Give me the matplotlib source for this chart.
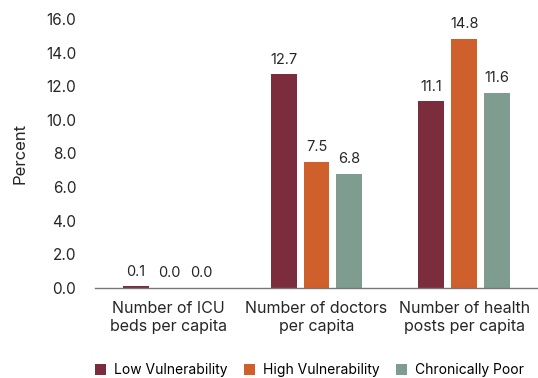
import matplotlib
matplotlib.use("Agg")
import matplotlib.pyplot as plt
import numpy as np

categories = ["Number of ICU\nbeds per capita", "Number of doctors\nper capita", "Number of health\nposts per capita"]
series_names = ["Low Vulnerability", "High Vulnerability", "Chronically Poor"]
low_vuln = [0.1, 12.7, 11.1]
high_vuln = [0.0, 7.5, 14.8]
chron_poor = [0.0, 6.8, 11.6]
colors = ["#7B2D3E", "#CF5F2B", "#7F9C90"]
y_ticks = [0, 2, 4, 6, 8, 10, 12, 14, 16]

plt.rcParams["font.family"] = ["Inter", "DejaVu Sans"]
text_color = "#262626"

fig = plt.figure(figsize=(5.38, 3.78), dpi=100)
ax = fig.add_axes([0.1766, 0.238, 0.8234, 0.712])

x = np.arange(len(categories))
width = 0.176
step = 0.223
all_series = [low_vuln, high_vuln, chron_poor]
for i, (vals, name, col) in enumerate(zip(all_series, series_names, colors)):
    pos = x + (i - 1) * step
    bars = ax.bar(pos, vals, width, color=col, label=name, zorder=2)
    for b, v in zip(bars, vals):
        ax.annotate(f"{v:.1f}", (b.get_x() + b.get_width() / 2, v),
                    xytext=(0, 5.5), textcoords="offset points",
                    ha="center", va="bottom", fontsize=10.5, color=text_color)

ax.set_xlim(-0.5, 2.5)
ax.set_ylim(0, 16)
ax.set_yticks(y_ticks)
ax.set_yticklabels([f"{t:.1f}" for t in y_ticks], fontsize=11, color=text_color)
ax.set_xticks(x)
ax.set_xticklabels(categories, fontsize=11.5, color=text_color, linespacing=1.25)
ax.tick_params(axis="both", length=0)
ax.tick_params(axis="y", pad=13.5)
ax.tick_params(axis="x", pad=9)
for s in ["top", "right", "left"]:
    ax.spines[s].set_visible(False)
ax.spines["bottom"].set_color("#777777")
ax.spines["bottom"].set_linewidth(1.0)
ax.set_ylabel("Percent", fontsize=12, color=text_color, labelpad=13)

fig.legend(loc="center left", bbox_to_anchor=(0.1766, 0.02), ncol=3, frameon=False,
           fontsize=10, handlelength=0.8, handleheight=0.8, handletextpad=0.55,
           columnspacing=1.2, borderaxespad=0, borderpad=0)

fig.savefig("out.png", dpi=100)
